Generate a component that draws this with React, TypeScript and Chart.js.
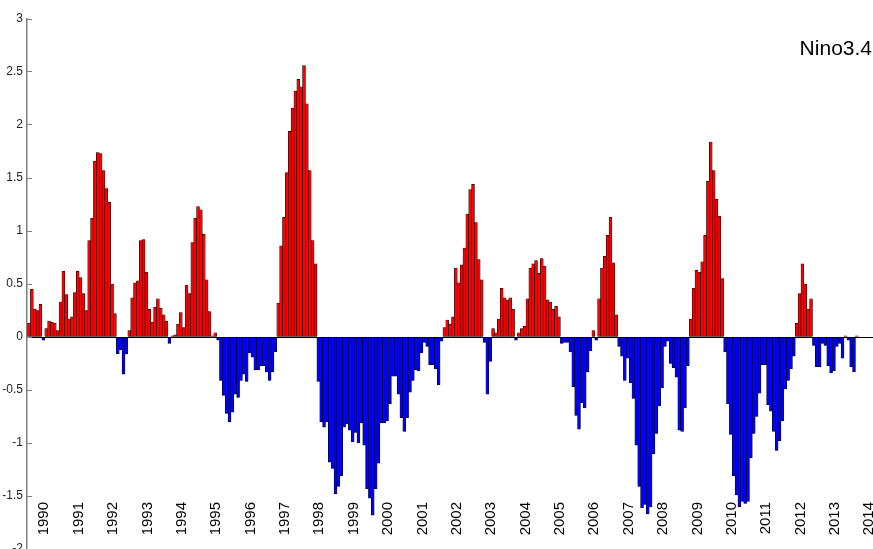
import { useEffect, useRef } from 'react'
import { Chart, registerables } from 'chart.js'

Chart.register(...registerables)

// Nino3.4 index, one bar per month starting January 1990
const startYear = 1990
const nino34 = [
  // 1990
  0.13, 0.45, 0.26, 0.25, 0.31, -0.03, 0.08, 0.15, 0.14, 0.13, 0.06, 0.33,
  // 1991
  0.62, 0.4, 0.17, 0.19, 0.42, 0.62, 0.56, 0.41, 0.25, 0.91, 1.12, 1.66,
  // 1992
  1.74, 1.73, 1.57, 1.4, 1.27, 0.5, 0.22, -0.16, -0.12, -0.35, -0.16, 0.06,
  // 1993
  0.37, 0.51, 0.53, 0.91, 0.92, 0.61, 0.26, 0.14, 0.28, 0.36, 0.27, 0.21,
  // 1994
  0.15, -0.06, 0.01, 0.02, 0.12, 0.23, 0.09, 0.49, 0.41, 0.89, 1.12, 1.23,
  // 1995
  1.2, 0.97, 0.54, 0.24, 0.01, 0.04, -0.03, -0.41, -0.55, -0.72, -0.8, -0.71,
  // 1996
  -0.54, -0.57, -0.41, -0.35, -0.42, -0.15, -0.19, -0.31, -0.31, -0.27, -0.27, -0.33,
  // 1997
  -0.41, -0.33, -0.14, 0.32, 0.86, 1.13, 1.55, 1.94, 2.16, 2.32, 2.43, 2.36,
  // 1998
  2.56, 2.2, 1.57, 0.91, 0.69, -0.42, -0.8, -0.85, -0.8, -1.18, -1.24, -1.48,
  // 1999
  -1.41, -1.31, -0.85, -0.82, -0.88, -0.99, -0.9, -1.0, -0.81, -1.02, -1.43, -1.52,
  // 2000
  -1.68, -1.43, -1.19, -0.81, -0.81, -0.79, -0.63, -0.37, -0.37, -0.54, -0.76, -0.89,
  // 2001
  -0.76, -0.52, -0.41, -0.31, -0.32, -0.15, -0.05, -0.09, -0.26, -0.26, -0.3, -0.45,
  // 2002
  -0.04, 0.09, 0.16, 0.12, 0.19, 0.65, 0.51, 0.68, 0.84, 1.16, 1.39, 1.44,
  // 2003
  1.08, 0.73, 0.54, -0.05, -0.54, -0.23, 0.08, 0.04, 0.17, 0.46, 0.37, 0.35,
  // 2004
  0.37, 0.26, -0.03, 0.04, 0.08, 0.1, 0.36, 0.65, 0.69, 0.72, 0.6, 0.74,
  // 2005
  0.67, 0.35, 0.33, 0.26, 0.29, 0.19, -0.06, -0.05, -0.05, -0.14, -0.47, -0.74,
  // 2006
  -0.87, -0.62, -0.67, -0.33, -0.13, 0.06, -0.03, 0.36, 0.65, 0.76, 0.96, 1.13,
  // 2007
  0.7, 0.21, -0.09, -0.18, -0.41, -0.2, -0.43, -0.58, -1.02, -1.41, -1.61, -1.58,
  // 2008
  -1.67, -1.6, -1.1, -0.91, -0.65, -0.48, -0.09, -0.04, -0.25, -0.29, -0.38, -0.88,
  // 2009
  -0.89, -0.67, -0.27, 0.17, 0.46, 0.63, 0.61, 0.71, 0.96, 1.47, 1.84, 1.57,
  // 2010
  1.3, 1.14, 0.55, -0.14, -0.63, -0.92, -1.31, -1.49, -1.6, -1.55, -1.57, -1.55,
  // 2011
  -1.14, -0.91, -0.75, -0.53, -0.26, -0.26, -0.64, -0.7, -0.89, -1.07, -0.98, -0.79,
  // 2012
  -0.49, -0.41, -0.3, -0.18, 0.13, 0.41, 0.69, 0.5, 0.26, 0.36, -0.08, -0.28,
  // 2013
  -0.28, -0.06, -0.08, -0.27, -0.34, -0.32, -0.09, -0.06, -0.2, 0.01, -0.03, -0.28,
  // 2014
  -0.33, 0.01
]

// year labels along the bottom of the plot
const yearLabels = [
  1990, 1991, 1992, 1993, 1994, 1995, 1996, 1997, 1998, 1999, 2000, 2001, 2002,
  2003, 2004, 2005, 2006, 2007, 2008, 2009, 2010, 2011, 2012, 2013, 2014
]

const seriesName = 'Nino3.4'

const FONT = '"Liberation Sans", Arial, Helvetica, sans-serif'
// the year text sits a little to the right of January
const LABEL_SHIFT = 0.445

// year labels are written inside the plot, rotated, near the bottom;
// the series name goes in the top right corner
const textPlugin = {
  id: 'insideText',
  afterDatasetsDraw(chart: any) {
    const { ctx, chartArea, scales } = chart
    ctx.save()
    ctx.fillStyle = '#000'
    ctx.font = `15px ${FONT}`
    ctx.textAlign = 'right'
    ctx.textBaseline = 'middle'
    yearLabels.forEach((yr) => {
      const px = scales.x.getPixelForValue(yr + LABEL_SHIFT)
      ctx.save()
      ctx.translate(px, chartArea.bottom - 47)
      ctx.rotate(-Math.PI / 2)
      ctx.fillText(String(yr), 0, 0)
      ctx.restore()
    })
    ctx.font = `21px ${FONT}`
    ctx.textAlign = 'right'
    ctx.textBaseline = 'middle'
    ctx.fillText(seriesName, chartArea.right - 1, chartArea.top + 30)
    ctx.restore()
  }
}

export default function App() {
  const canvasRef = useRef<HTMLCanvasElement | null>(null)

  useEffect(() => {
    document.body.style.margin = '0'
    const ctx = canvasRef.current?.getContext('2d')
    if (!ctx) return

    const points = nino34.map((v, i) => ({ x: startYear + i / 12, y: v }))

    const chart = new Chart(ctx, {
      type: 'bar',
      data: {
        datasets: [
          {
            label: seriesName,
            data: points,
            backgroundColor: nino34.map((v) => (v >= 0 ? '#ff0000' : '#0000ff')),
            borderColor: '#000000',
            borderWidth: 0.6,
            borderSkipped: false,
            barPercentage: 1,
            categoryPercentage: 1
          }
        ]
      },
      options: {
        responsive: true,
        maintainAspectRatio: false,
        animation: false,
        layout: { padding: { top: 19, left: 0, right: 0, bottom: 0 } },
        plugins: {
          tooltip: { enabled: false },
          legend: { display: false }
        },
        scales: {
          x: {
            type: 'linear',
            display: false,
            offset: false,
            min: startYear - 2 / 34.375,
            max: startYear + 844 / 34.375
          },
          y: {
            type: 'linear',
            min: -2,
            max: 3,
            border: { display: true, color: '#808080', width: 1.5 },
            grid: {
              drawTicks: true,
              tickLength: -5,
              tickColor: '#808080',
              lineWidth: 1,
              color: (c: any) => (c.tick && c.tick.value === 0 ? '#000000' : 'rgba(0,0,0,0)')
            },
            ticks: {
              stepSize: 0.5,
              padding: 9,
              color: '#222',
              font: { family: FONT, size: 12 },
              callback: (v: any) => String(v)
            },
            afterFit: (axis: any) => {
              axis.width = 27
              axis.paddingTop = 0
              axis.paddingBottom = 0
            }
          }
        }
      },
      plugins: [textPlugin]
    })

    return () => {
      chart.destroy()
    }
  }, [])

  return (
    <div style={{ position: 'relative', width: 873, height: 549 }}>
      <canvas ref={canvasRef} />
    </div>
  )
}
